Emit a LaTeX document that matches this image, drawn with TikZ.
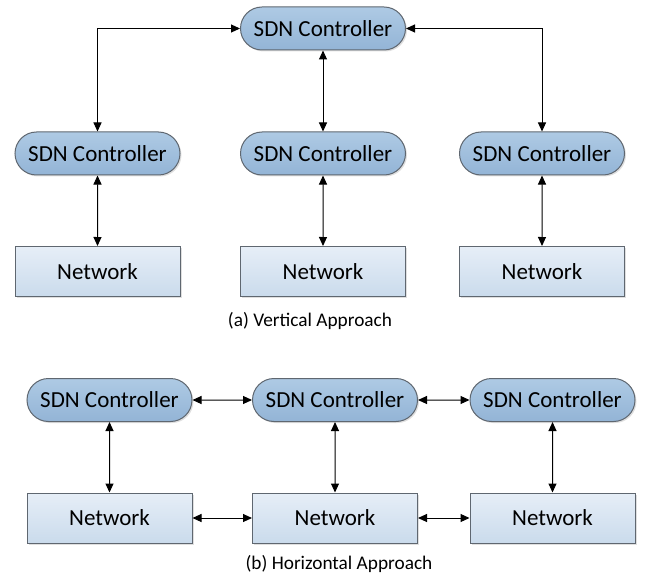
\documentclass[tikz,border=0pt]{standalone}
\usepackage{fontspec}
\setmainfont{Carlito}
\usepackage{xcolor,tikz}
\usetikzlibrary{arrows.meta,positioning,shapes.misc,shadows}
\definecolor{ctrltop}{HTML}{AECAE4}
\definecolor{ctrlbot}{HTML}{93B4D6}
\definecolor{nettop}{HTML}{E6EEF7}
\definecolor{netbot}{HTML}{CADBEC}
\definecolor{edgegray}{HTML}{5F6770}
\tikzset{ctrl/.style={rounded rectangle,draw=edgegray,line width=1pt,top color=ctrltop,bottom color=ctrlbot,
    minimum width=165pt,minimum height=43pt,inner sep=0pt,font=\fontsize{23}{27}\selectfont,
    drop shadow={shadow xshift=1.5pt,shadow yshift=-1.5pt,opacity=.25}},
  net/.style={rectangle,draw=edgegray,line width=1pt,top color=nettop,bottom color=netbot,
    minimum width=165pt,minimum height=50pt,inner sep=0pt,font=\fontsize{23}{27}\selectfont,
    drop shadow={shadow xshift=1.5pt,shadow yshift=-1.5pt,opacity=.25}},
  link/.style={{Triangle[length=9pt,width=8pt]}-{Triangle[length=9pt,width=8pt]},line width=1pt},
  caption/.style={font=\fontsize{19.3}{23}\selectfont}}

\begin{document}
\begin{tikzpicture}[x=1pt,y=-1pt]
\useasboundingbox (0,0) rectangle (647,577);
% (a) vertical approach
\node[ctrl] (c0) at (323,28.5) {SDN Controller};
\foreach \x/\i in {97.5/1,323/2,542/3} {
 \node[ctrl] (ca\i) at (\x,153.5) {SDN Controller};
 \node[net] (na\i) at (\x,271.5) {Network};
 \draw[link] (ca\i) -- (na\i);}
\draw[link] (c0.west) -| (ca1.north);
\draw[link] (c0) -- (ca2);
\draw[link] (c0.east) -| (ca3.north);
\node[caption] (capa) at (310,321) {(a) Vertical Approach};
% (b) horizontal approach
\foreach \x/\i in {109.5/1,335/2,552.5/3} {
 \node[ctrl] (cb\i) at (\x,400) {SDN Controller};
 \node[net] (nb\i) at (\x,518) {Network};
 \draw[link] (cb\i) -- (nb\i);}
\foreach \i/\j in {1/2,2/3} {
 \draw[link] (cb\i) -- (cb\j);
 \draw[link] (nb\i) -- (nb\j);}
\node[caption] (capb) at (339,564) {(b) Horizontal Approach};
\end{tikzpicture}
\end{document}
